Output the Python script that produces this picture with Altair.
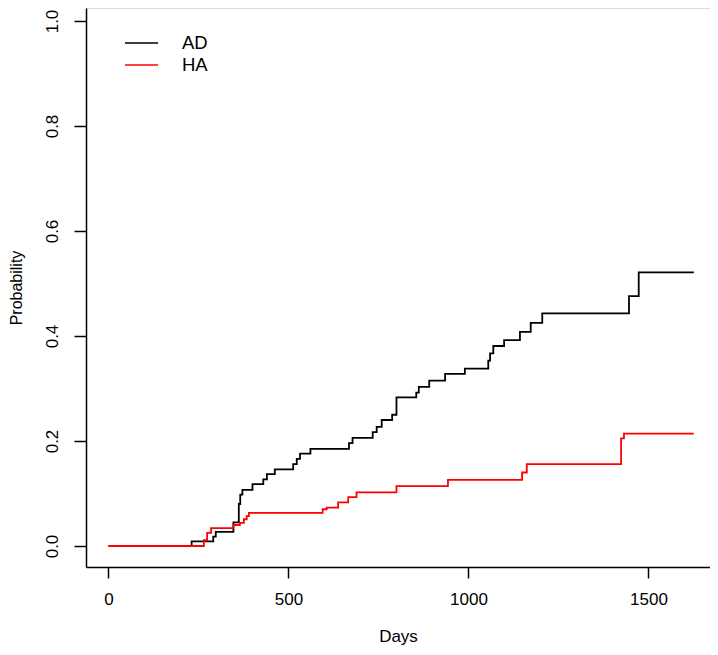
import altair as alt
import pandas as pd

# Cumulative incidence step curves
ad_days = [0, 231, 291, 298, 347, 362, 366, 372, 400, 430, 440, 462, 513, 523, 532, 561,
           668, 678, 734, 745, 759, 788, 800, 855, 862, 891, 935, 990, 1055, 1060, 1069,
           1099, 1143, 1173, 1205, 1446, 1473, 1626]
ad_prob = [0, 0.009, 0.018, 0.027, 0.045, 0.080, 0.098, 0.107, 0.118, 0.127, 0.137, 0.146,
           0.156, 0.166, 0.176, 0.185, 0.196, 0.206, 0.217, 0.227, 0.240, 0.250, 0.283,
           0.292, 0.303, 0.315, 0.328, 0.338, 0.353, 0.367, 0.381, 0.392, 0.408, 0.425,
           0.443, 0.476, 0.521, 0.521]

ha_days = [0, 265, 274, 285, 347, 365, 376, 384, 390, 595, 606, 638, 666, 689, 800,
           943, 1149, 1162, 1424, 1432, 1626]
ha_prob = [0, 0.011, 0.025, 0.034, 0.040, 0.044, 0.051, 0.057, 0.063, 0.070, 0.073, 0.083,
           0.093, 0.102, 0.114, 0.126, 0.140, 0.156, 0.205, 0.214, 0.214]

groups = ["AD", "HA"]
colors = ["black", "red"]
x_ticks = [0, 500, 1000, 1500]
y_ticks = [0.0, 0.2, 0.4, 0.6, 0.8, 1.0]

df = pd.concat([
    pd.DataFrame({"Days": ad_days, "Probability": ad_prob, "group": "AD", "order": range(len(ad_days))}),
    pd.DataFrame({"Days": ha_days, "Probability": ha_prob, "group": "HA", "order": range(len(ha_days))}),
])

FONT = "Liberation Sans"

chart = alt.Chart(df).mark_line(interpolate="step-after", strokeWidth=1.8).encode(
    x=alt.X("Days:Q",
            scale=alt.Scale(domain=[-62.5, 1671], nice=False, zero=False),
            axis=alt.Axis(values=x_ticks, title="Days", grid=False, tickSize=11,
                          labelPadding=13, titlePadding=21, labelFontSize=17,
                          titleFontSize=17, titleFontWeight="normal", domainColor="black",
                          tickColor="black", labelColor="black", titleColor="black",
                          domainWidth=1.5, tickWidth=1.5,
                          labelFont=FONT, titleFont=FONT, format="d", labelFlush=False)),
    y=alt.Y("Probability:Q",
            scale=alt.Scale(domain=[-0.04, 1.02476], nice=False, zero=False),
            axis=alt.Axis(values=y_ticks, title="Probability", grid=False, tickSize=12,
                          labelAngle=-90, labelAlign="center", labelBaseline="bottom",
                          labelPadding=13, titlePadding=19, labelFontSize=17,
                          titleFontSize=16, titleFontWeight="normal", domainColor="black",
                          tickColor="black", labelColor="black", titleColor="black",
                          domainWidth=1.5, tickWidth=1.5,
                          labelFont=FONT, titleFont=FONT, format=".1f", labelFlush=False)),
    color=alt.Color("group:N",
                    scale=alt.Scale(domain=groups, range=colors),
                    legend=alt.Legend(title=None, orient="none", legendX=38, legendY=24,
                                      symbolType="stroke", symbolSize=1089,
                                      symbolStrokeWidth=1.5, clipHeight=22, rowPadding=0,
                                      padding=0, labelOffset=23, labelFontSize=18.5,
                                      labelFont=FONT, labelColor="black")),
    order="order:Q",
).properties(
    width=624, height=559, autosize="none",
    padding={"left": 78, "top": 0, "right": 0, "bottom": 80},
).configure_view(stroke=None).configure(background="white")

chart.save("out.html", embed_options={"renderer": "svg", "actions": False})
